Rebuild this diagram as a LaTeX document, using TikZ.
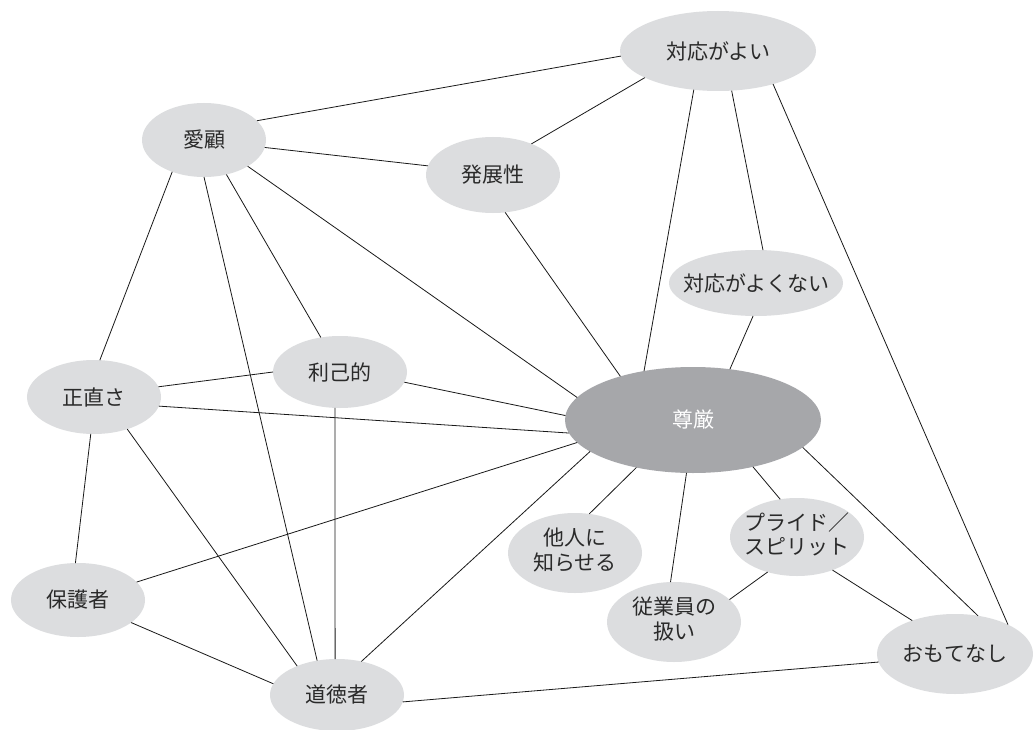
\documentclass[tikz,border=0pt]{standalone}
\usepackage{fontspec}
\setmainfont{Noto Sans CJK JP}
\usetikzlibrary{shapes.geometric}
\definecolor{lightg}{HTML}{DCDDDF}
\definecolor{darkg}{HTML}{A6A7AA}
\definecolor{txtc}{HTML}{2A2A2A}
\newcommand\nlab[1]{\makebox[0pt]{#1}}
\newcommand\nlabb[2]{\makebox[0pt]{\begin{tabular}{@{}c@{}}#1\\#2\end{tabular}}}
\tikzset{
  nd/.style={ellipse, fill=lightg, inner sep=0pt, outer sep=0pt, text=txtc,
    font=\fontsize{21bp}{24bp}\selectfont},
  ctr/.style={nd, fill=darkg, text=white},
  edge/.style={draw=black!90, line width=0.8bp}
}
\begin{document}
\begin{tikzpicture}[x=1bp, y=-1bp]
\useasboundingbox (0,0) rectangle (1033,730);
\fill[white] (0,0) rectangle (1033,730);
% nodes
\node[nd, minimum width=196bp, minimum height=80bp] (T1) at (718,51) {\nlab{対応がよい}};
\node[nd, minimum width=124bp, minimum height=74bp] (AI) at (204,140) {\nlab{愛顧}};
\node[nd, minimum width=134bp, minimum height=76bp] (HA) at (493,175) {\nlab{発展性}};
\node[nd, minimum width=174bp, minimum height=66bp] (T2) at (756,283) {\nlab{対応がよくない}};
\node[nd, minimum width=134bp, minimum height=72bp] (RI) at (340,372) {\nlab{利己的}};
\node[nd, minimum width=134bp, minimum height=74bp] (SH) at (94,397) {\nlab{正直さ}};
\node[ctr, minimum width=256bp, minimum height=106bp] (SO) at (693,420) {\nlab{尊厳}};
\node[nd, minimum width=134bp, minimum height=80bp] (TA) at (575,553) {\nlabb{他人に}{知らせる}};
\node[nd, minimum width=134bp, minimum height=78bp] (PR) at (797,537) {\nlabb{プライド／}{スピリット}};
\node[nd, minimum width=134bp, minimum height=80bp] (JU) at (674,622) {\nlabb{従業員の}{扱い}};
\node[nd, minimum width=134bp, minimum height=74bp] (HO) at (78,600) {\nlab{保護者}};
\node[nd, minimum width=134bp, minimum height=72bp] (DO) at (337,695) {\nlab{道徳者}};
\node[nd, minimum width=156bp, minimum height=80bp] (OM) at (955,654) {\nlab{おもてなし}};
% connectors
\draw[edge] (T1.183.5) -- (AI.20);
\draw[edge] (T1.200) -- (HA.39);
\draw[edge] (T1.238) -- (SO.135);
\draw[edge] (T1.289) -- (T2.78);
\draw[edge] (T1.329.5) -- (OM.29);
\draw[edge] (AI.353.5) -- (HA.172);
\draw[edge] (AI.225) -- (SH.81);
\draw[edge] (AI.270) -- (DO.120.7);
\draw[edge] (AI.303) -- (RI.119.7);
\draw[edge] (AI.329.4) -- (SO.169.4);
\draw[edge] (HA.288.4) -- (SO.149.3);
\draw[edge] (T2.265) -- (SO.54.6);
\draw[edge] (SH.9.75) -- (RI.180.8);
\draw[edge] (SH.352.2) -- (SO.186.4);
\draw[edge] (SH.265.4) -- (HO.94.6);
\draw[edge] (SH.316) -- (DO.144.6);
\draw[edge] (RI.351) -- (SO.178.6);
\draw[edge] (RI.262) -- (DO.93.5);
\draw[edge] (HO.17) -- (SO.191.5);
\draw[edge] (HO.337.3) -- (DO.170.8);
\draw[edge] (DO.54.6) -- (SO.197.6);
\draw[edge] (DO.354) -- (OM.186);
\draw[edge] (SO.220.6) -- (TA.70.3);
\draw[edge] (SO.263.5) -- (JU.95.6);
\draw[edge] (SO.322.7) -- (PR.114.2);
\draw[edge] (SO.346.6) -- (OM.59.5);
\draw[edge] (PR.230.4) -- (JU.22);
\draw[edge] (PR.317.5) -- (OM.142.5);
\end{tikzpicture}
\end{document}
